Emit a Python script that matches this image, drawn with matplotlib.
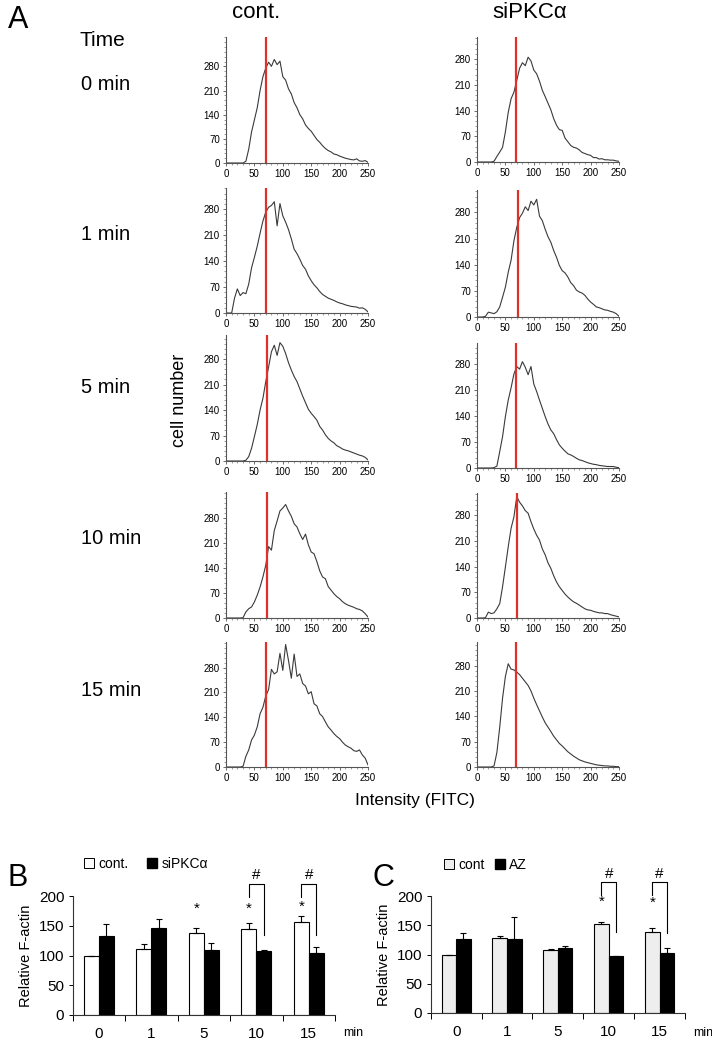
import numpy as np
import matplotlib.pyplot as plt
from matplotlib.ticker import MultipleLocator, FixedLocator
from matplotlib.patches import Patch

plt.rcParams['font.family'] = ['Liberation Sans', 'DejaVu Sans']

W, H = 712, 1041

# ---- panel A: FITC intensity histograms (bins every 5 units, 0..250) ----
intensity = np.arange(0, 251, 5)

cont_0 = [0, 0, 0, 0, 0, 0, 0, 5, 40, 90,
          125, 160, 210, 250, 275, 292, 280, 300, 285, 295,
          250, 240, 215, 200, 175, 160, 140, 128, 110, 100,
          92, 80, 68, 60, 50, 42, 36, 32, 26, 24,
          20, 17, 14, 12, 10, 9, 12, 6, 5, 7,
          2]
si_0 = [0, 0, 0, 0, 0, 0, 2, 15, 27, 40,
        82, 135, 172, 190, 222, 255, 270, 262, 285, 275,
        250, 240, 220, 195, 178, 160, 142, 118, 100, 88,
        86, 65, 55, 45, 40, 38, 33, 26, 23, 20,
        18, 12, 12, 8, 9, 6, 6, 5, 5, 3,
        2]
cont_1 = [0, 0, 0, 40, 65, 47, 55, 52, 78, 122,
          150, 180, 215, 248, 272, 285, 290, 300, 235, 295,
          262, 245, 225, 200, 172, 160, 145, 128, 118, 100,
          87, 76, 68, 58, 50, 45, 40, 37, 34, 30,
          27, 25, 22, 20, 18, 17, 16, 13, 14, 10,
          3]
si_1 = [0, 0, 0, 2, 13, 11, 9, 14, 27, 53,
        80, 120, 152, 204, 240, 266, 278, 295, 285, 310,
        300, 315, 270, 258, 235, 215, 200, 178, 160, 138,
        124, 118, 107, 92, 84, 72, 67, 64, 58, 48,
        40, 34, 27, 25, 22, 19, 18, 15, 13, 9,
        2]
cont_5 = [0, 0, 0, 0, 0, 0, 0, 2, 12, 35,
          67, 100, 140, 172, 218, 258, 300, 318, 290, 325,
          315, 295, 270, 250, 232, 218, 198, 178, 160, 142,
          131, 122, 112, 95, 85, 72, 62, 55, 50, 42,
          38, 33, 30, 28, 25, 22, 19, 16, 14, 10,
          3]
si_5 = [0, 0, 0, 0, 0, 0, 1, 5, 44, 84,
        138, 182, 215, 252, 272, 265, 285, 270, 250, 272,
        225, 205, 182, 160, 138, 118, 102, 92, 76, 62,
        53, 45, 38, 35, 31, 26, 22, 20, 17, 14,
        12, 10, 9, 7, 6, 5, 4, 4, 4, 2,
        1]
cont_10 = [0, 0, 0, 0, 0, 0, 1, 17, 26, 31,
           45, 64, 87, 115, 148, 200, 190, 245, 272, 300,
           308, 318, 300, 285, 264, 255, 236, 220, 235, 205,
           185, 180, 158, 132, 115, 110, 88, 78, 68, 60,
           54, 46, 40, 36, 33, 30, 26, 24, 20, 12,
           3]
si_10 = [0, 0, 0, 1, 16, 12, 14, 25, 39, 85,
         139, 194, 244, 275, 330, 315, 305, 292, 285, 262,
         242, 225, 212, 188, 172, 150, 135, 115, 98, 85,
         75, 65, 57, 50, 44, 40, 35, 30, 25, 22,
         21, 18, 16, 14, 14, 12, 12, 9, 7, 5,
         3]
cont_15 = [0, 0, 0, 0, 0, 0, 2, 30, 48, 76,
           90, 113, 150, 168, 200, 218, 275, 262, 268, 320,
           272, 345, 300, 250, 318, 255, 262, 235, 228, 206,
           212, 178, 172, 150, 142, 127, 113, 104, 94, 86,
           80, 70, 62, 57, 53, 46, 44, 48, 34, 25,
           6]
si_15 = [0, 0, 0, 0, 0, 0, 3, 40, 110, 190,
         250, 285, 270, 268, 262, 255, 245, 235, 225, 210,
         190, 172, 155, 138, 122, 110, 98, 85, 75, 65,
         58, 50, 42, 36, 30, 25, 20, 17, 14, 12,
         10, 8, 6, 5, 4, 3, 3, 2, 2, 1,
         1]

hists = [cont_0, si_0, cont_1, si_1, cont_5, si_5, cont_10, si_10, cont_15, si_15]
gate = [71, 69, 70, 73, 72, 69, 73, 71, 70, 69]
ytop = [365, 340, 337, 340, 346, 335, 353, 340, 352, 345]
times = ['0 min', '1 min', '5 min', '10 min', '15 min']

# ---- panels B and C: relative F-actin ----
minutes = ['0', '1', '5', '10', '15']
b_cont = [100, 111, 137, 145, 156]
b_cont_err = [0, 9, 10, 9, 11]
b_si = [132, 147, 109, 107, 105]
b_si_err = [21, 14, 12, 2, 10]
c_cont = [100, 128, 107, 152, 138]
c_cont_err = [0, 4, 2, 4, 8]
c_az = [126, 127, 111, 97, 103]
c_az_err = [10, 37, 4, 1, 8]

fig = plt.figure(figsize=(W / 100, H / 100), dpi=100)


def rect(x0, x1, top, bot):
    return [x0 / W, 1 - bot / H, (x1 - x0) / W, (bot - top) / H]


def fy(y):
    return 1 - y / H


# histogram panel placement (pixels): left, top, zero line
places = [(226, 37, 163), (477, 37, 162),
          (226, 188, 313), (477, 190, 317),
          (226, 335, 461), (477, 343, 468),
          (226, 492, 618), (477, 493, 618),
          (226, 642, 767), (477, 642, 767)]

for k, (x0, top, bot) in enumerate(places):
    ax = fig.add_axes(rect(x0, x0 + 142, top, bot))
    ax.plot(intensity, hists[k], color='#3a3a3a', lw=0.8)
    ax.axvline(gate[k], color='#e0302a', lw=1.6)
    ax.set_xlim(0, 250)
    ax.set_ylim(0, ytop[k])
    ax.xaxis.set_major_locator(MultipleLocator(50))
    ax.xaxis.set_minor_locator(MultipleLocator(10))
    ax.yaxis.set_major_locator(FixedLocator([0, 70, 140, 210, 280]))
    ax.yaxis.set_minor_locator(MultipleLocator(14))
    for s in ['top', 'right']:
        ax.spines[s].set_visible(False)
    for s in ['left', 'bottom']:
        ax.spines[s].set_color('#555555')
        ax.spines[s].set_linewidth(0.8)
    ax.tick_params(which='major', length=2.5, width=0.6, color='#555555',
                   labelsize=7, pad=2)
    ax.tick_params(which='minor', length=1.5, width=0.5, color='#777777')

# panel A texts
fig.text(8 / W, fy(20), 'A', fontsize=22, va='center')
fig.text(256 / W, fy(13), 'cont.', fontsize=16, ha='center', va='center')
fig.text(530 / W, fy(13), 'siPKCα', fontsize=16, ha='center', va='center')
fig.text(80 / W, fy(40), 'Time', fontsize=15, va='center')
for t, yc in zip(times, [84, 235, 387, 539, 690]):
    fig.text(81 / W, fy(yc), t, fontsize=14.5, va='center')
fig.text(180 / W, fy(400), 'cell number', fontsize=13, rotation=90,
         ha='center', va='center')
fig.text(415 / W, fy(800), 'Intensity (FITC)', fontsize=12.5,
         ha='center', va='center')

# ---- bar charts ----
w = 0.286
pos = np.arange(len(minutes))


def bar_panel(rc, cont, cont_err, other, other_err, cont_color, star_y,
              br_top, br_left, br_right):
    ax = fig.add_axes(rc)
    ax.bar(pos - w / 2, cont, w, color=cont_color, edgecolor='black', lw=0.8)
    ax.bar(pos + w / 2, other, w, color='black', edgecolor='black', lw=0.8)
    ax.errorbar(pos - w / 2, cont, yerr=[[0] * 5, cont_err], fmt='none',
                ecolor='black', elinewidth=0.8, capsize=2.5, capthick=0.8)
    ax.errorbar(pos + w / 2, other, yerr=[[0] * 5, other_err], fmt='none',
                ecolor='black', elinewidth=0.8, capsize=2.5, capthick=0.8)
    for i, sy in star_y:
        ax.text(i - w / 2, sy, '*', fontsize=11, ha='center', va='center')
    for i, rb in zip([3, 4], br_right):
        ax.plot([i - w / 2, i - w / 2, i + w / 2, i + w / 2],
                [br_left, br_top, br_top, rb], color='black', lw=0.8,
                clip_on=False)
        ax.text(i, br_top + 14, '#', fontsize=11, ha='center', va='center')
    ax.set_xlim(-0.5, 4.5)
    ax.set_ylim(0, 200)
    ax.set_xticks(pos)
    ax.set_xticklabels(minutes)
    ax.set_xticks(np.arange(-0.5, 5, 1), minor=True)
    ax.set_yticks([0, 50, 100, 150, 200])
    ax.tick_params(axis='x', which='major', length=0, pad=9, labelsize=11)
    ax.tick_params(axis='x', which='minor', length=4, width=0.7)
    ax.tick_params(axis='y', length=3, width=0.7, labelsize=11, pad=3)
    for s in ['top', 'right']:
        ax.spines[s].set_visible(False)
    for s in ['left', 'bottom']:
        ax.spines[s].set_linewidth(0.8)
        ax.spines[s].set_color('#333333')
    ax.set_ylabel('Relative F-actin', fontsize=10.5, labelpad=4)
    return ax


axB = bar_panel(rect(72.7, 335, 896, 1015), b_cont, b_cont_err, b_si, b_si_err,
                'white', [(2, 178), (3, 179), (4, 182)], 221, 199, [134, 134])
axC = bar_panel(rect(430.7, 685, 896, 1013), c_cont, c_cont_err, c_az, c_az_err,
                '#eeeeee', [(3, 190), (4, 188)], 224, 201, [139, 136])

fig.legend(handles=[Patch(facecolor='white', edgecolor='black', lw=0.7, label='cont.'),
                    Patch(facecolor='black', edgecolor='black', label='siPKCα')],
           loc='center left', bbox_to_anchor=(84 / W, fy(864)), ncol=2,
           frameon=False, fontsize=10, handlelength=0.7, handleheight=0.7,
           handletextpad=0.3, columnspacing=1.4, borderpad=0, borderaxespad=0)
fig.legend(handles=[Patch(facecolor='#eeeeee', edgecolor='black', lw=0.7, label='cont'),
                    Patch(facecolor='black', edgecolor='black', label='AZ')],
           loc='center left', bbox_to_anchor=(444 / W, fy(865)), ncol=2,
           frameon=False, fontsize=10, handlelength=0.7, handleheight=0.7,
           handletextpad=0.3, columnspacing=0.8, borderpad=0, borderaxespad=0)

fig.text(8 / W, fy(878), 'B', fontsize=22, va='center')
fig.text(372 / W, fy(878), 'C', fontsize=22, va='center')
fig.text(343 / W, fy(1033), 'min', fontsize=9, va='center')
fig.text(693 / W, fy(1033), 'min', fontsize=9, va='center')

fig.savefig('out.png', dpi=100)
